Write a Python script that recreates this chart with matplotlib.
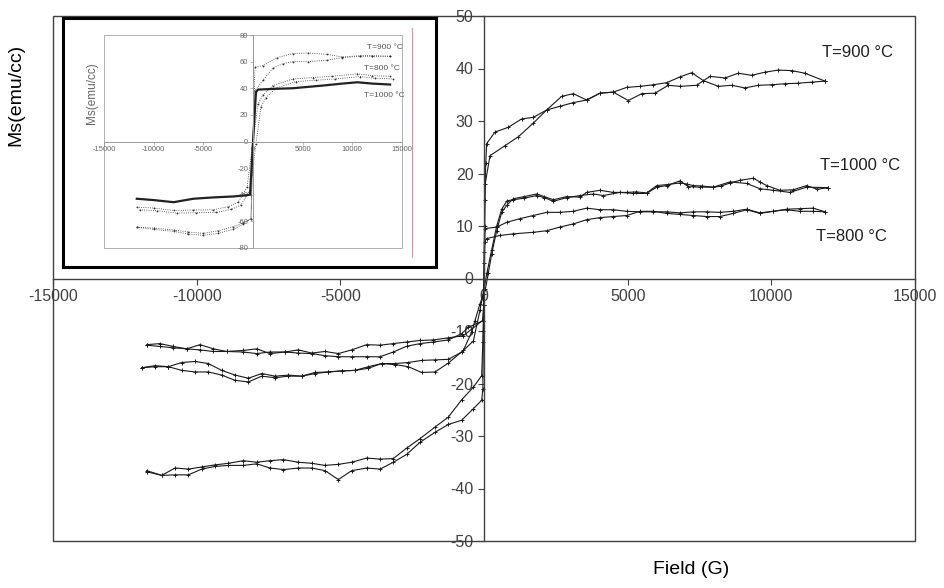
import matplotlib
matplotlib.use("Agg")
import matplotlib.pyplot as plt
from matplotlib.patches import Rectangle
from matplotlib.lines import Line2D

plt.rcParams["font.family"] = ["Liberation Sans", "DejaVu Sans"]
plt.rcParams["axes.unicode_minus"] = False

# ---- main chart data: field (G) and Ms (emu/cc), each loop as two branches ----
# T=900 °C, branch from +12000 down to -12000
h900_down = [11867, 11171, 10708, 10242, 9779, 9316, 8850, 8387, 7865, 7400, 6821, 6414,
             5951, 5487, 5022, 4500, 4037, 3573, 3108, 2703, 2181, 1717, 1311, 846, 383, 93,
             60, 30, 10, -10, -40, -81, -371, -777, -1241, -1705, -2227, -2691, -3155, -3619,
             -4083, -4605, -5069, -5533, -5997, -6461, -6983, -7447, -7911, -8375, -8897,
             -9361, -9824, -10288, -10752, -11216, -11738]
m900_down = [37.6, 39.1, 39.6, 39.7, 39.3, 38.7, 39.1, 38.2, 38.5, 36.8, 36.6, 36.8,
             35.3, 35.2, 33.9, 35.5, 35.3, 34.0, 35.2, 34.7, 32.1, 30.7, 30.4, 28.8, 27.9, 25.7,
             22.0, 15.0, 5.0, -5.0, -12.0, -18.5, -20.7, -23.1, -26.4, -28.3, -30.5, -32.3, -34.3, -34.4,
             -34.2, -35.0, -35.4, -35.6, -35.2, -35.0, -34.5, -34.7, -35.0, -34.7, -35.2,
             -35.5, -35.9, -36.3, -36.1, -37.5, -36.6]
# T=900 °C, branch from -12000 up to +12000
h900_up = [-11738, -11216, -10752, -10288, -9824, -9361, -8897, -8375, -7911, -7447, -6983,
           -6461, -5997, -5533, -5069, -4605, -4083, -3619, -3155, -2691, -2227, -1705, -1241,
           -777, -371, -81, -40, -20, 0, 20, 40, 209, 731, 1195, 1717, 2181, 2645, 3108, 3573,
           4037, 4500, 4966, 5429, 5892, 6358, 6821, 7227, 7632, 8154, 8619, 9083, 9547, 10011,
           10475, 10938, 11403, 11867]
m900_up = [-36.8, -37.5, -37.4, -37.4, -36.3, -35.8, -35.6, -35.6, -35.3, -36.1, -36.4,
           -36.1, -36.1, -36.6, -38.3, -36.6, -36.1, -36.3, -35.0, -33.5, -31.2, -29.3, -27.8,
           -27.0, -24.8, -23.2, -21.0, -10.0, 0.0, 10.0, 18.0, 23.4, 25.3, 27.0, 29.6, 32.1, 32.8, 33.5, 34.0,
           35.3, 35.5, 36.4, 36.6, 36.9, 37.3, 38.4, 39.2, 37.7, 36.6, 36.8, 36.3, 36.8, 36.9,
           37.1, 37.2, 37.4, 37.6]

# T=800 °C
h800_down = [11867, 11460, 10996, 10532, 10068, 9604, 9140, 8676, 8212, 7748, 7284, 6821,
             6358, 5892, 5429, 4966, 4500, 4037, 3573, 3108, 2645, 2181, 1717, 1253, 790, 442, 35,
             10, -10, -50, -719, -1241, -1763, -2227, -2691, -3155, -3619, -4083, -4605, -5069,
             -5533, -5997, -6461, -6925, -7447, -7911, -8375, -8955, -9418, -9883, -10346,
             -10812, -11275, -11738]
m800_down = [12.7, 12.8, 12.8, 13.1, 12.8, 12.5, 13.2, 12.8, 12.6, 12.7, 12.7, 12.5,
             12.7, 12.7, 12.7, 12.8, 13.1, 13.1, 13.4, 12.8, 12.6, 12.6, 12.0, 11.4, 10.7, 9.8, 9.5,
             0.0, -5.0, -8.0, -10.9, -11.3, -11.7, -11.8, -12.1, -12.4, -12.7, -12.6, -13.6, -14.3,
             -13.9, -14.2, -13.6, -14.0, -14.3, -13.4, -13.7, -13.9, -13.4, -12.6, -13.4,
             -12.95, -12.4, -12.6]
h800_up = [-11738, -11275, -10812, -10346, -9883, -9418, -8955, -8375, -7911, -7447, -6925,
           -6461, -5997, -5533, -5069, -4605, -4083, -3619, -3155, -2691, -2227, -1763, -1241,
           -777, -545, -20, 0, 10, 20, 93, 557, 1020, 1717, 2181, 2645, 3108, 3573, 4037, 4500,
           4966, 5429, 5892, 6358, 6821, 7284, 7748, 8212, 8676, 9140, 9604, 10068, 10532,
           10996, 11460, 11867]
m800_up = [-12.7, -12.95, -13.2, -13.4, -13.6, -13.9, -13.9, -14.0, -14.3, -14.0, -14.0,
           -14.2, -14.3, -14.7, -14.9, -14.9, -14.9, -14.9, -14.0, -12.9, -12.4, -12.1, -11.7,
           -10.5, -9.3, -8.0, -3.0, 3.0, 7.0, 7.6, 8.2, 8.5, 8.8, 9.1, 9.8, 10.4, 11.2, 11.6, 11.8,
           12.0, 12.8, 12.8, 12.4, 12.2, 12.0, 11.8, 11.8, 12.4, 13.1, 12.4, 12.8, 13.2,
           13.3, 13.4, 12.7]

# T=1000 °C
h1000_down = [11982, 11600, 11228, 10764, 10300, 9838, 9600, 9372, 8909, 8561, 8250, 7980,
              7600, 7284, 7050, 6821, 6400, 6010, 5662, 5300, 4966, 4500, 4037, 3573, 3341,
              2876, 2412, 2100, 1834, 1400, 1020, 800, 616, 442, 268, 150, 50, -139, -313, -428,
              -720, -1240, -1704, -2168, -2632, -3096, -3560, -4024, -4488, -4952, -5416, -5880,
              -6344, -6808, -7272, -7736, -8200, -8664, -9128, -9592, -10056, -10520, -10984,
              -11448, -11912]
m1000_down = [17.3, 17.0, 17.7, 16.9, 16.8, 17.7, 18.4, 19.1, 18.7, 18.2, 17.6, 17.4,
              17.6, 17.7, 18.0, 18.2, 17.9, 17.7, 16.3, 16.5, 16.4, 16.4, 16.8, 16.4, 15.5,
              15.6, 15.0, 15.6, 16.1, 15.6, 15.2, 14.0, 12.6, 9.1, 4.7, 1.0, -2.0, -4.8, -8.0, -10.2,
              -13.7, -16.1, -17.8, -17.9, -16.8, -16.4, -16.2, -17.1, -17.5, -17.6, -17.8, -17.9,
              -18.6, -18.4, -18.6, -18.1, -19.0, -18.4, -17.5, -16.2, -15.8, -16.0, -16.8,
              -16.6, -17.0]
h1000_up = [-11912, -11448, -10984, -10520, -10056, -9592, -9128, -8664, -8200, -7736, -7272,
            -6808, -6344, -5880, -5416, -4952, -4488, -4024, -3560, -3096, -2632, -2168, -1704,
            -1240, -776, -370, -139, 0, 100, 268, 442, 616, 800, 1020, 1400, 1834, 2100, 2412,
            2876, 3341, 3805, 4153, 4733, 5197, 5662, 6010, 6358, 6821, 7111, 7516, 7980, 8561,
            9140, 9604, 10068, 10648, 11228, 11982]
m1000_up = [-17.0, -16.8, -16.8, -17.5, -17.8, -17.8, -18.4, -19.4, -19.7, -18.6, -18.9,
            -18.6, -18.6, -18.1, -17.8, -17.6, -17.5, -16.8, -16.2, -16.2, -16.0, -15.6, -15.5,
            -15.4, -14.0, -11.9, -6.0, -2.0, 1.0, 5.5, 10.0, 13.2, 14.8, 15.0, 15.3, 15.8, 15.4, 14.7,
            15.4, 15.8, 16.1, 15.8, 16.4, 16.2, 16.2, 17.4, 17.7, 18.6, 17.5, 17.4, 17.4, 18.4,
            18.1, 17.1, 16.8, 16.4, 17.4, 17.3]

x_ticks = [-15000, -10000, -5000, 0, 5000, 10000, 15000]
y_ticks = [-50, -40, -30, -20, -10, 0, 10, 20, 30, 40, 50]
labels = ["T=900 °C", "T=1000 °C", "T=800 °C"]

# ---- inset data (older measurement, screenshot) ----
ih900_down = [13800, 12000, 10800, 9000, 7400, 5500, 4000, 2400, 1000, 200, 0,
              -200, -1000, -2000, -3500, -5000, -6500, -8000, -10000, -11700]
im900_down = [64, 64.5, 64.5, 63.5, 65.5, 66.5, 66, 63, 57, 55.8, 0,
              -58, -61, -64, -67, -69, -68, -66.5, -65, -64.4]
ih900_up = [-11700, -10000, -8000, -6500, -5000, -3500, -2000, -1000, -200, 0,
            200, 1000, 2000, 3000, 4000, 5500, 7400, 9000, 10800, 12000, 13800]
im900_up = [-64.4, -66, -67.5, -69.5, -70.5, -69, -66, -62, -58, 0,
            38, 46, 55, 58.5, 60, 60, 61, 63, 64, 64, 64]
ih800 = [-11700, -10000, -8000, -6000, -4000, -2500, -1500, -600, 0, 500, 1000, 2000,
         4000, 6000, 8000, 10500, 12000, 13800]
im800 = [-49.3, -50, -51.8, -51.5, -51.3, -49, -45.6, -34.3, 0, 28, 35, 42,
         47, 48, 49, 50.8, 49.5, 49]
ih1000 = [-11700, -10000, -8000, -6000, -4000, -2000, -1000, -300, 0, 300, 500, 2000,
          4000, 7000, 9000, 10500, 12000, 13800]
im1000 = [-43, -44, -45.6, -43, -42, -41.3, -40.6, -40, 0, 37, 39, 39.5,
          40, 42, 43.5, 44.5, 43.5, 42.8]
ix_ticks = [-15000, -10000, -5000, 0, 5000, 10000, 15000]
iy_ticks = [-80, -60, -40, -20, 0, 20, 40, 60, 80]


def main():
    fig = plt.figure(figsize=(9.45, 5.88), dpi=100)
    ax = fig.add_axes([53 / 945, 1 - 541 / 588, 862 / 945, 525 / 588])

    line_kw = dict(color="#1a1a1a", lw=0.8, marker="+", ms=3.5, mew=0.7)
    ax.plot(h900_down, m900_down, **line_kw)
    ax.plot(h900_up, m900_up, **line_kw)
    ax.plot(h800_down, m800_down, **line_kw)
    ax.plot(h800_up, m800_up, **line_kw)
    ax.plot(h1000_down, m1000_down, **line_kw)
    ax.plot(h1000_up, m1000_up, **line_kw)

    ax.set_xlim(-15000, 15000)
    ax.set_ylim(-50, 50)
    for side in ["left", "bottom"]:
        ax.spines[side].set_position(("data", 0))
        ax.spines[side].set_color("#404040")
        ax.spines[side].set_linewidth(1.0)
    ax.spines["top"].set_visible(False)
    ax.spines["right"].set_visible(False)
    ax.add_patch(Rectangle((0, 0), 1, 1, transform=ax.transAxes, fill=False,
                           ec="#404040", lw=1.0, clip_on=False))
    ax.set_xticks(x_ticks)
    ax.set_yticks(y_ticks)
    ax.tick_params(axis="both", direction="out", length=4, width=0.8, color="#404040",
                   labelsize=11.5, labelcolor="#404040")

    ax.text(13000, 43, labels[0], fontsize=12, ha="center", va="center", color="#202020")
    ax.text(13100, 21.5, labels[1], fontsize=12, ha="center", va="center", color="#202020")
    ax.text(12800, 8, labels[2], fontsize=12, ha="center", va="center", color="#202020")

    fig.text(16 / 945, 1 - 95 / 588, "Ms(emu/cc)", rotation=90, fontsize=14,
             ha="center", va="center")
    fig.text(691 / 945, 1 - 570 / 588, "Field (G)", fontsize=14, ha="center", va="center")

    # inset: framed picture of the earlier loops
    frame = fig.add_axes([63 / 945, 1 - 267 / 588, 373 / 945, 249 / 588])
    frame.set_xticks([])
    frame.set_yticks([])
    for s in frame.spines.values():
        s.set_linewidth(2.2)
        s.set_color("black")

    axi = fig.add_axes([104 / 945, 1 - 248 / 588, 298 / 945, 213 / 588])
    dot_kw = dict(color="#333333", lw=0.6, ls=":", marker="o", ms=1.3, mew=0)
    axi.plot(ih900_down, im900_down, **dot_kw)
    axi.plot(ih900_up, im900_up, **dot_kw)
    axi.plot(ih800, im800, **dot_kw)
    axi.plot([h + 300 for h in ih800], [m - 2 for m in im800], **dot_kw)
    axi.plot(ih1000, im1000, color="#222222", lw=1.6)
    axi.set_xlim(-15000, 15000)
    axi.set_ylim(-80, 80)
    for side in ["left", "bottom"]:
        axi.spines[side].set_position(("data", 0))
        axi.spines[side].set_color("#999999")
        axi.spines[side].set_linewidth(0.7)
    axi.spines["top"].set_visible(False)
    axi.spines["right"].set_visible(False)
    axi.add_patch(Rectangle((0, 0), 1, 1, transform=axi.transAxes, fill=False,
                            ec="#b0b0b0", lw=0.7, clip_on=False))
    axi.set_xticks(ix_ticks)
    axi.set_yticks(iy_ticks)
    axi.tick_params(axis="both", direction="out", length=2, width=0.5, color="#999999",
                    labelsize=5.5, labelcolor="#666666", pad=1.5)
    axi.text(13300, 70.5, labels[0], fontsize=6, ha="center", va="center", color="#555555")
    axi.text(13000, 55, labels[2], fontsize=6, ha="center", va="center", color="#555555")
    axi.text(13200, 34.5, labels[1], fontsize=6, ha="center", va="center", color="#555555")
    fig.text(92 / 945, 1 - 93 / 588, "Ms(emu/cc)", rotation=90, fontsize=8.5,
             ha="center", va="center", color="#666666")
    fig.add_artist(Line2D([412 / 945, 412 / 945], [1 - 28 / 588, 1 - 257 / 588],
                          color="#e89090", lw=0.8))

    fig.savefig("out.png", dpi=100)


if __name__ == "__main__":
    main()
